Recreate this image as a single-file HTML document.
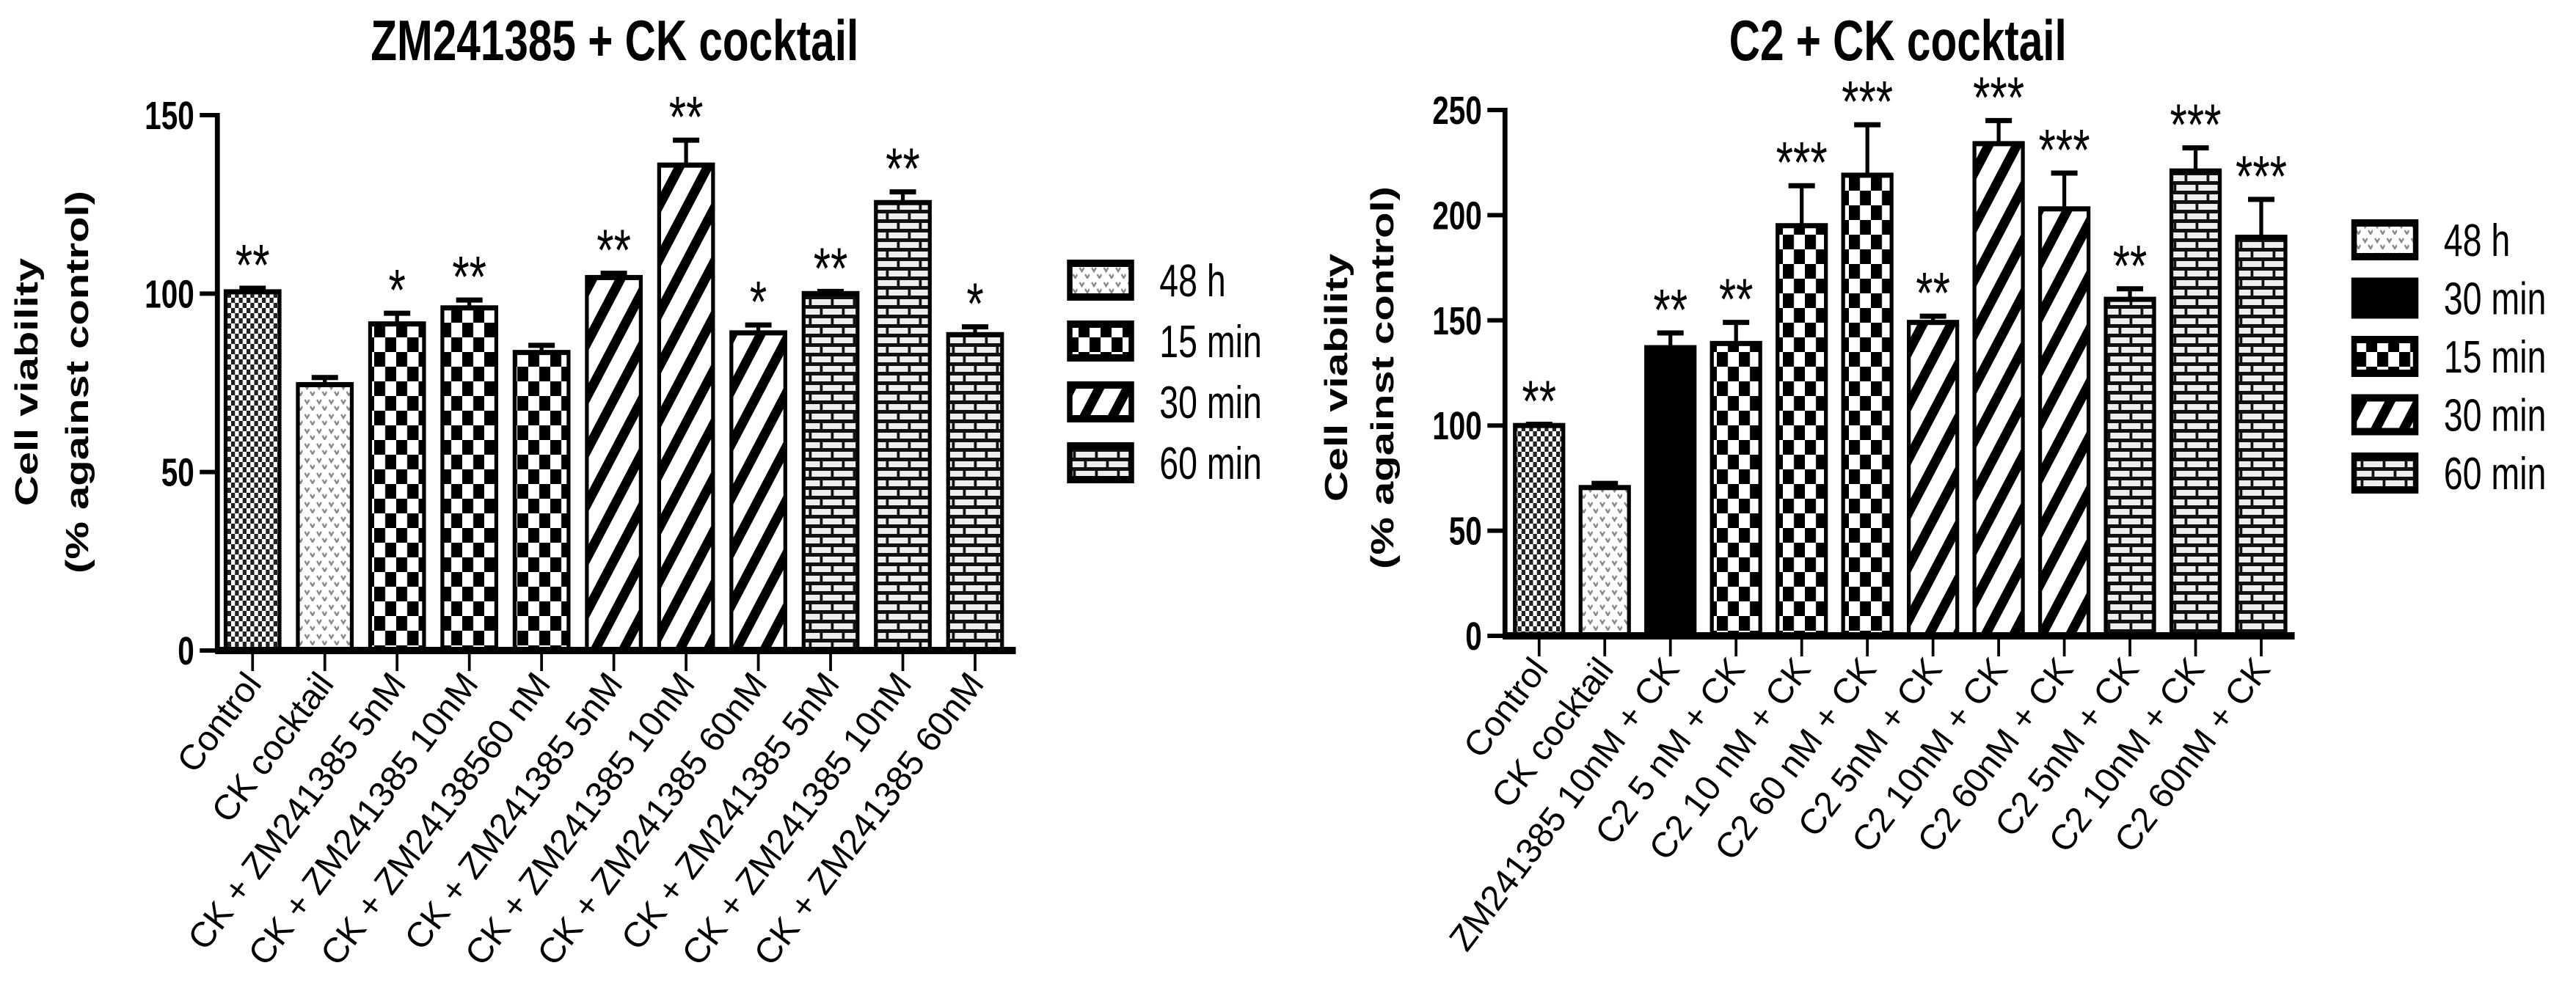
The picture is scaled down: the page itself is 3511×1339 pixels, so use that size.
<!DOCTYPE html>
<html><head><meta charset="utf-8"><style>
html,body{margin:0;padding:0;background:#fff;}
svg{display:block;position:absolute;left:0;top:0;}
text{font-family:"Liberation Sans",Arial,sans-serif;fill:#000;}
</style></head><body>
<svg id="fig" width="3511" height="1339" viewBox="0 0 4681.3 1339" preserveAspectRatio="none" xmlns="http://www.w3.org/2000/svg">
<defs>
<pattern id="p-control" width="14" height="14" patternUnits="userSpaceOnUse"><rect width="14" height="14" fill="#fff"/><rect width="7" height="7" fill="#222"/><rect x="7" y="7" width="7" height="7" fill="#222"/></pattern>
<pattern id="p-48h" width="22" height="20" patternUnits="userSpaceOnUse"><rect width="22" height="20" fill="#fff"/><path d="M4 5 l4 5 l4 -5 M14 14 l4 5 l4 -5" stroke="#888" stroke-width="3" fill="none"/></pattern>
<pattern id="p-15" width="40" height="40" patternUnits="userSpaceOnUse"><rect width="40" height="40" fill="#fff"/><rect width="20" height="20" fill="#000"/><rect x="20" y="20" width="20" height="20" fill="#000"/></pattern>
<pattern id="p-30" width="42" height="42" patternUnits="userSpaceOnUse" patternTransform="rotate(35)"><rect width="42" height="42" fill="#fff"/><rect width="16" height="42" fill="#000"/></pattern>
<pattern id="p-60" width="40" height="26" patternUnits="userSpaceOnUse"><rect width="40" height="26" fill="#eee"/><rect y="0" width="40" height="5" fill="#111"/><rect y="13" width="40" height="5" fill="#111"/><rect x="10" y="0" width="5" height="13" fill="#111"/><rect x="30" y="13" width="5" height="13" fill="#111"/></pattern>
</defs>
<g id="left"></g>
<g id="right"></g>
</svg>
<svg id="labels" width="3511" height="1339" viewBox="0 0 3511 1339" xmlns="http://www.w3.org/2000/svg"></svg>
<script>
const leftCategories = ["Control","CK cocktail","CK + ZM241385 5nM","CK + ZM241385 10nM","CK + ZM24138560 nM","CK + ZM241385 5nM","CK + ZM241385 10nM","CK + ZM241385 60nM","CK + ZM241385 5nM","CK + ZM241385 10nM","CK + ZM241385 60nM"];
const leftValues = [100.5,74.5,91.5,96,83.5,104.5,136,89,100,125.5,88.5];
const leftErrors = [1,2,3,2.2,2,1.2,7,2.2,0.6,3,2.2];
const leftStars = ["**","","*","**","","**","**","*","**","**","*"];
const leftPatterns = ["control","48h","15","15","15","30","30","30","60","60","60"];
const leftTicks = [0,50,100,150];
const leftLegend = [["48h","48 h"],["15","15 min"],["30","30 min"],["60","60 min"]];

const rightCategories = ["Control","CK cocktail","ZM241385 10nM + CK","C2 5 nM  + CK","C2 10 nM + CK","C2 60 nM + CK","C2 5nM + CK","C2 10nM + CK","C2 60nM + CK","C2 5nM + CK","C2 10nM + CK","C2 60nM + CK"];
const rightValues = [100,70.5,137,139,195,219,149,234,203,160,221,189.5];
const rightErrors = [0.6,2,7,10,19,24,3,11,17,5,11,18];
const rightStars = ["**","","**","**","***","***","**","***","***","**","***","***"];
const rightPatterns = ["control","48h","solid","15","15","15","30","30","30","60","60","60"];
const rightTicks = [0,50,100,150,200,250];
const rightLegend = [["48h","48 h"],["solid","30 min"],["15","15 min"],["30","30 min"],["60","60 min"]];

const NS = "http://www.w3.org/2000/svg";
const SQ = 0.75;
const labelLayer = document.getElementById("labels");
function mk(parent, tag, attrs, txt){
  const e = document.createElementNS(NS, tag);
  for (const k in attrs) e.setAttribute(k, attrs[k]);
  if (txt !== undefined) e.textContent = txt;
  parent.appendChild(e);
  return e;
}
function fillOf(p){ return p === "solid" ? "#000" : "url(#p-" + p + ")"; }

function drawChart(g, cfg){
  const yScale = v => cfg.y0 - (v - 0) * (cfg.y0 - cfg.yTop) / cfg.max;
  const xScale = i => cfg.x0c + i * cfg.step;
  const t = mk(g, "text", {x: cfg.titleX, y: 82, "font-size": 78, "font-weight": "bold", "text-anchor": "middle"}, cfg.title);
  
  
  const yt = mk(g, "text", {transform: "translate(" + cfg.ytX + "," + cfg.ytY + ") rotate(-90)", "font-size": 58, "font-weight": "bold", "text-anchor": "middle"});
  
  
  mk(yt, "tspan", {x: 0, y: 0}, "Cell viability");
  mk(yt, "tspan", {x: 0, y: cfg.ytGap}, "(% against control)");
  cfg.values.forEach((v, i) => {
    const cx = xScale(i), top = yScale(v), w = cfg.barW;
    const r = mk(g, "rect", {x: cx - w/2, y: top, width: w, height: cfg.y0 - top, fill: fillOf(cfg.patterns[i]), stroke: "#000", "stroke-width": 7});
    
    
    const et = yScale(v + cfg.errors[i]);
    const el = mk(g, "path", {d: "M" + cx + " " + top + " V" + et + " M" + (cx - 24) + " " + et + " H" + (cx + 24), stroke: "#000", "stroke-width": 7, fill: "none"});
    
    
    if (cfg.stars[i]) {
      const s = mk(g, "text", {x: cx, y: et - 4, "font-size": 80, "text-anchor": "middle"}, cfg.stars[i]);
      
      
    }
    const tk = mk(g, "line", {x1: cx, x2: cx, y1: cfg.y0, y2: cfg.y0 + 28, stroke: "#000", "stroke-width": 5});
    
    
    const lx = cx * SQ + 14, ly = cfg.y0 + 46;
    const lb = mk(labelLayer, "text", {transform: "translate(" + lx + "," + ly + ") rotate(-53)", "font-size": 48, "text-anchor": "end"}, cfg.cats[i]);
    
    
  });
  const ya = mk(g, "line", {x1: cfg.axisX, x2: cfg.axisX, y1: cfg.yTop - 3, y2: cfg.y0 + 4, stroke: "#000", "stroke-width": 9});
  
  
  const xa = mk(g, "line", {x1: cfg.axisX - 4, x2: cfg.axisEnd, y1: cfg.y0, y2: cfg.y0, stroke: "#000", "stroke-width": 10});
  
  
  cfg.ticks.forEach(v => {
    const y = yScale(v);
    const l = mk(g, "line", {x1: cfg.axisX - 32, x2: cfg.axisX, y1: y, y2: y, stroke: "#000", "stroke-width": 6});
    
    
    const tl = mk(g, "text", {x: cfg.axisX - 42, y: y + 19, "font-size": 54, "font-weight": "bold", "text-anchor": "end"}, String(v));
    
    
  });
  cfg.legend.forEach((e, i) => {
    const cy = cfg.legY0 + i * cfg.legStep;
    const lg = mk(g, "g", {});
    
    
    mk(lg, "rect", {x: cfg.legX, y: cy - 23, width: 112, height: 46, fill: fillOf(e[0]), stroke: "#000", "stroke-width": 10});
    mk(lg, "text", {x: cfg.legX + 163, y: cy + 22, "font-size": 62}, e[1]);
  });
}

drawChart(document.getElementById("left"), {
  title: "ZM241385 + CK cocktail", titleX: 1117,
  ytX: 68, ytY: 521, ytGap: 92,
  values: leftValues, errors: leftErrors, stars: leftStars, patterns: leftPatterns, cats: leftCategories,
  ticks: leftTicks, max: 150, y0: 887, yTop: 157,
  axisX: 395, axisEnd: 1846, x0c: 459, step: 131.3, barW: 98,
  legend: leftLegend, legX: 1944, legY0: 382, legStep: 83
});
drawChart(document.getElementById("right"), {
  title: "C2 + CK cocktail", titleX: 3449,
  ytX: 2448, ytY: 515, ytGap: 84,
  values: rightValues, errors: rightErrors, stars: rightStars, patterns: rightPatterns, cats: rightCategories,
  ticks: rightTicks, max: 250, y0: 867, yTop: 150,
  axisX: 2735, axisEnd: 4170, x0c: 2797, step: 119.3, barW: 88,
  legend: rightLegend, legX: 4278, legY0: 327, legStep: 79.5
});
</script>
</body></html>
